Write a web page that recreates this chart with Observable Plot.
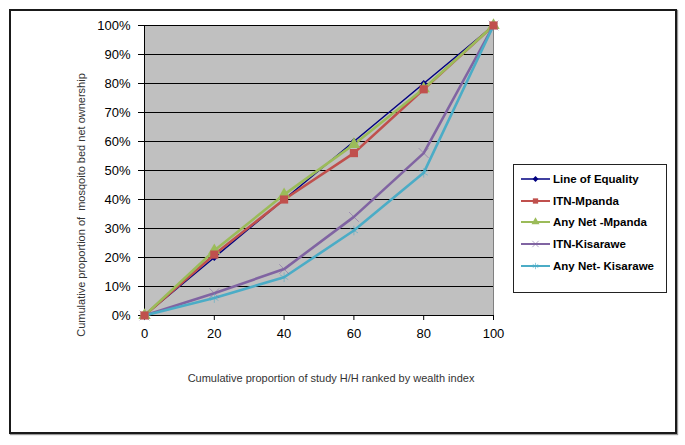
<!DOCTYPE html>
<html>
<head>
<meta charset="utf-8">
<script src="https://cdn.jsdelivr.net/npm/d3@7"></script>
<script src="https://cdn.jsdelivr.net/npm/@observablehq/plot@0.6"></script>
<style>
  html, body { margin: 0; padding: 0; background: #fff; }
  #wrap { position: relative; width: 685px; height: 445px; overflow: hidden; font-family: "Liberation Sans", Arial, sans-serif; }
  #border { position: absolute; left: 9px; top: 9px; width: 664px; height: 421px; border: 2px solid #1a1a1a; box-shadow: 1px 1px 1px #999; pointer-events: none; }
  #legend { position: absolute; left: 513px; top: 164px; width: 152px; height: 127px; border: 1px solid #222; background: #fff; }
  #ylabel { position: absolute; left: 81px; top: 205px; transform: translate(-50%, -50%) rotate(-90deg); font-size: 11px; color: #333; white-space: pre; }
  .row { position: absolute; left: 7px; height: 14px; display: flex; align-items: center; font-weight: bold; font-size: 11.5px; color: #000; white-space: pre; }
  .row svg { margin-right: 3px; }
</style>
</head>
<body>
<div id="wrap">
  <div id="chart"></div>
  <div id="ylabel"></div>
  <div id="border"></div>
  <div id="legend"></div>
</div>
<script>
// Data
const xs = [0, 20, 40, 60, 80, 100];
const equality    = [0, 0.20, 0.40, 0.60, 0.80, 1.00];
const itnMpanda   = [0, 0.21, 0.40, 0.56, 0.78, 1.00];
const anyMpanda   = [0, 0.224, 0.417, 0.59, 0.782, 1.00];
const itnKisarawe = [0, 0.077, 0.16, 0.34, 0.56, 1.00];
const anyKisarawe = [0, 0.06, 0.132, 0.293, 0.492, 1.00];
const seriesNames = ["Line of Equality", "ITN-Mpanda", "Any Net -Mpanda", "ITN-Kisarawe", "Any Net- Kisarawe"];
const seriesColors = ["#000080", "#c0504d", "#9bbb59", "#8064a2", "#4bacc6"];
const seriesSymbols = ["diamond2", "square", "triangle", "times", "asterisk"];
const xTicks = [0, 20, 40, 60, 80, 100];
const yTicks = [0, 0.1, 0.2, 0.3, 0.4, 0.5, 0.6, 0.7, 0.8, 0.9, 1.0];
const xLabel = "Cumulative proportion of study H/H ranked by wealth index";
const yLabel = "Cumulative proportion of  mosqoito bed net ownership";

const allValues = [equality, itnMpanda, anyMpanda, itnKisarawe, anyKisarawe];
const rows = [];
allValues.forEach((vals, i) => vals.forEach((v, j) => rows.push({series: seriesNames[i], idx: i, x: xs[j], y: v})));

const widths = [1.5, 2.6, 2.6, 2.6, 2.6];
const lineMarks = seriesNames.map((name, i) =>
  Plot.line(rows.filter(d => d.idx === i), {x: "x", y: "y", stroke: seriesColors[i], strokeWidth: widths[i]}));
const dotFor = (i) => {
  const data = rows.filter(d => d.idx === i);
  if (i === 0) return Plot.dot(data, {x: "x", y: "y", symbol: "diamond2", r: 3.2, fill: seriesColors[i], stroke: "none"});
  if (i === 1) return Plot.dot(data, {x: "x", y: "y", symbol: "square", r: 4.6, fill: seriesColors[i], stroke: "none"});
  if (i === 2) return Plot.dot(data, {x: "x", y: "y", symbol: "triangle", r: 4.6, fill: seriesColors[i], stroke: "none"});
  return Plot.dot(data, {x: "x", y: "y", symbol: seriesSymbols[i], r: 4.5, stroke: seriesColors[i], strokeOpacity: 0.55, strokeWidth: 1, fill: "none"});
};
const dotMarks = [0, 2, 3, 4, 1].map(dotFor);

const chart = Plot.plot({
  width: 685,
  height: 445,
  marginLeft: 144,
  marginRight: 192,
  marginTop: 25,
  marginBottom: 130,
  style: {fontFamily: "'Liberation Sans', Arial, sans-serif", fontSize: "13px", background: "transparent", color: "#000"},
  x: {domain: [0, 100], ticks: xTicks, label: null},
  y: {domain: [0, 1], ticks: yTicks, label: null},
  marks: [
    Plot.frame({fill: "#c0c0c0", stroke: "#808080"}),
    Plot.gridY(yTicks, {stroke: "#000", strokeOpacity: 1, strokeWidth: 1}),
    Plot.ruleX([0], {stroke: "#000"}),
    Plot.ruleY([0], {stroke: "#000"}),
    Plot.axisX(xTicks, {tickSize: 5, tickPadding: 8, label: null, fontSize: 13}),
    Plot.axisY(yTicks, {tickSize: 6, tickPadding: 8, label: null, fontSize: 13, tickFormat: d => Math.round(d * 100) + "%"}),
    ...lineMarks,
    ...dotMarks,
    Plot.text([xLabel], {frameAnchor: "bottom", dy: 66, dx: 12, fontSize: 11, fill: "#333"})
  ]
});
document.getElementById("chart").appendChild(chart);
document.getElementById("ylabel").textContent = yLabel;

// Legend
const legend = document.getElementById("legend");
seriesNames.forEach((name, i) => {
  const row = document.createElement("div");
  row.className = "row";
  row.style.top = (7 + i * 21.7) + "px";
  const sym = d3.symbol().type({
    diamond2: d3.symbolDiamond2, square: d3.symbolSquare, triangle: d3.symbolTriangle,
    times: d3.symbolTimes, asterisk: d3.symbolAsterisk
  }[seriesSymbols[i]]).size(i === 0 ? 22 : 28)();
  const filled = i < 3;
  row.innerHTML = `<svg width="29" height="10"><line x1="0" x2="29" y1="5" y2="5" stroke="${seriesColors[i]}" stroke-width="${i === 0 ? 1.5 : 2}"/>` +
    `<path transform="translate(14.5,5)" d="${sym}" fill="${filled ? seriesColors[i] : "none"}" stroke="${filled ? "none" : seriesColors[i]}" stroke-opacity="0.6"/></svg>` +
    `<span>${name}</span>`;
  legend.appendChild(row);
});
</script>
</body>
</html>
